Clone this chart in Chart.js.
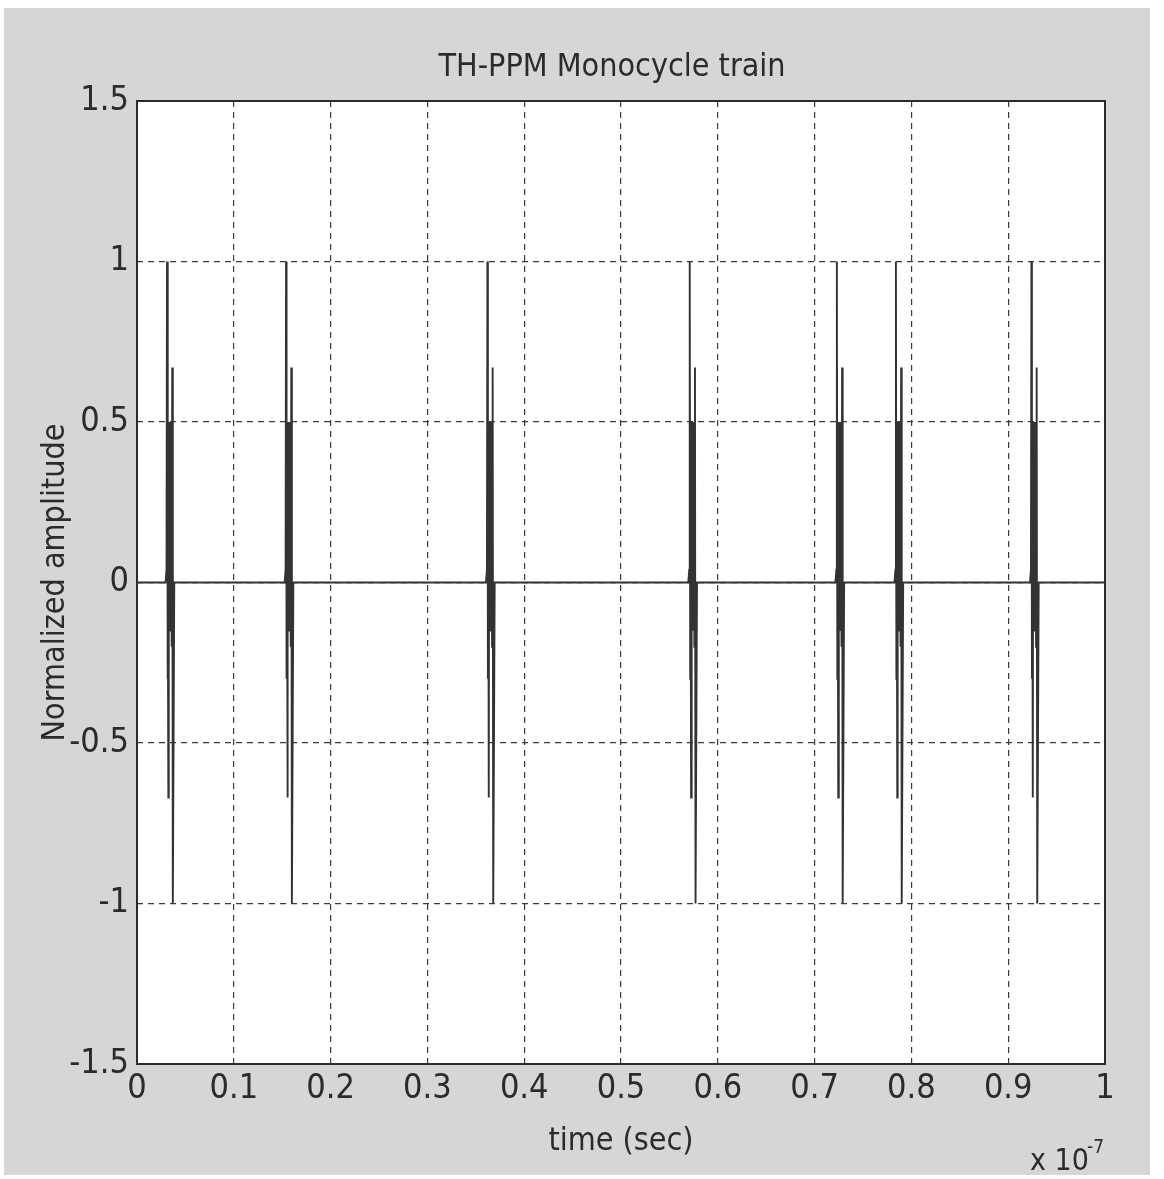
<!DOCTYPE html>
<html>
<head>
<meta charset="utf-8">
<script src="https://cdn.jsdelivr.net/npm/chart.js@4/dist/chart.umd.min.js"></script>
<style>
  html, body { margin: 0; padding: 0; background: #fff; }
  canvas { display: block; }
</style>
</head>
<body>
<canvas id="train" width="1164" height="1179"></canvas>
<script>
// TH-PPM monocycle train: one pulse per frame, time hopped inside it.
// Time axis is in units of 1e-7 s (shown by the "x 10^-7" note).
const pulseTimes   = [0.034, 0.157, 0.365, 0.574, 0.726, 0.787, 0.927];
const pulseOffsets = [-0.0045, -0.0035, -0.003, -0.0025, -0.002, -0.0016, -0.0012, -0.0008, -0.0004, 0, 0.0004, 0.0008, 0.0012, 0.0018, 0.0024, 0.003, 0.0045];
const pulseAmps    = [0, 0.04, 1, -0.3, 0.05, -0.67, 0.5, -0.15, 0.5, -0.15, 0.5, -0.15, 0.5, -0.2, 0.67, -1, 0];

const xTicks = [0, 0.1, 0.2, 0.3, 0.4, 0.5, 0.6, 0.7, 0.8, 0.9, 1];
const yTicks = [-1.5, -1, -0.5, 0, 0.5, 1, 1.5];

const FONT = "'Liberation Sans Narrow', 'DejaVu Sans Condensed', 'Liberation Sans', sans-serif";
const INK  = '#2b2b2b';

// baseline from 0 to 1, with each monocycle dropped in at its slot
const points = [{ x: 0, y: 0 }];
pulseTimes.forEach(t => {
  pulseOffsets.forEach((dt, i) => points.push({ x: t + dt, y: pulseAmps[i] }));
});
points.push({ x: 1, y: 0 });

const fmt = v => String(Number(v.toFixed(1)));

const paper = {
  id: 'paper',
  beforeDraw(chart) {
    const { ctx, chartArea: a } = chart;
    ctx.save();
    ctx.fillStyle = '#ffffff';
    ctx.fillRect(0, 0, chart.width, chart.height);
    ctx.fillStyle = '#d6d6d7';
    ctx.fillRect(4, 8, 1146, 1167);
    ctx.fillStyle = '#ffffff';
    ctx.fillRect(a.left, a.top, a.right - a.left, a.bottom - a.top);
    ctx.restore();
  },
  afterDraw(chart) {
    const { ctx, chartArea: a } = chart;
    ctx.save();
    // axes box
    ctx.strokeStyle = INK;
    ctx.lineWidth = 2;
    ctx.strokeRect(a.left, a.top, a.right - a.left, a.bottom - a.top);

    ctx.fillStyle = INK;
    ctx.textAlign = 'center';
    ctx.textBaseline = 'alphabetic';
    ctx.font = `32px ${FONT}`;
    ctx.fillText('TH-PPM Monocycle train', 612, 76);

    // exponent note under the right end of the time axis
    ctx.textAlign = 'left';
    ctx.font = `30px ${FONT}`;
    ctx.fillText('x 10', 1030, 1170);
    ctx.font = `19px ${FONT}`;
    ctx.fillText('-7', 1087, 1153);
    ctx.restore();
  }
};

new Chart(document.getElementById('train'), {
  type: 'line',
  data: {
    datasets: [{
      data: points,
      borderColor: '#333333',
      borderWidth: 1.9,
      pointRadius: 0,
      tension: 0,
      fill: false,
    }],
  },
  options: {
    responsive: false,
    animation: false,
    layout: { padding: { top: 101, right: 59, bottom: 0, left: 0 } },
    plugins: {
      legend: { display: false },
      tooltip: { enabled: false },
    },
    scales: {
      x: {
        type: 'linear',
        min: 0,
        max: 1,
        afterBuildTicks: s => { s.ticks = xTicks.map(v => ({ value: v })); },
        afterFit: s => { s.height = 115; },
        ticks: { callback: fmt, color: INK, padding: 5, maxRotation: 0, autoSkip: false, font: { family: FONT, size: 34 } },
        grid: { color: '#3a3a3a', lineWidth: 1.2, drawTicks: false },
        border: { display: false, dash: [6, 5] },
        title: { display: true, text: 'time (sec)', color: INK, padding: { top: 0, bottom: 18 }, font: { family: FONT, size: 32 } },
      },
      y: {
        min: -1.5,
        max: 1.5,
        afterBuildTicks: s => { s.ticks = yTicks.map(v => ({ value: v })); },
        afterFit: s => { s.width = 137; },
        ticks: { callback: fmt, color: INK, padding: 8, font: { family: FONT, size: 34 } },
        grid: { color: '#3a3a3a', lineWidth: 1.2, drawTicks: false },
        border: { display: false, dash: [6, 5] },
        title: { display: true, text: 'Normalized amplitude', color: INK, padding: { top: 36, bottom: 0 }, font: { family: FONT, size: 32 } },
      },
    },
  },
  plugins: [paper],
});
</script>
</body>
</html>
